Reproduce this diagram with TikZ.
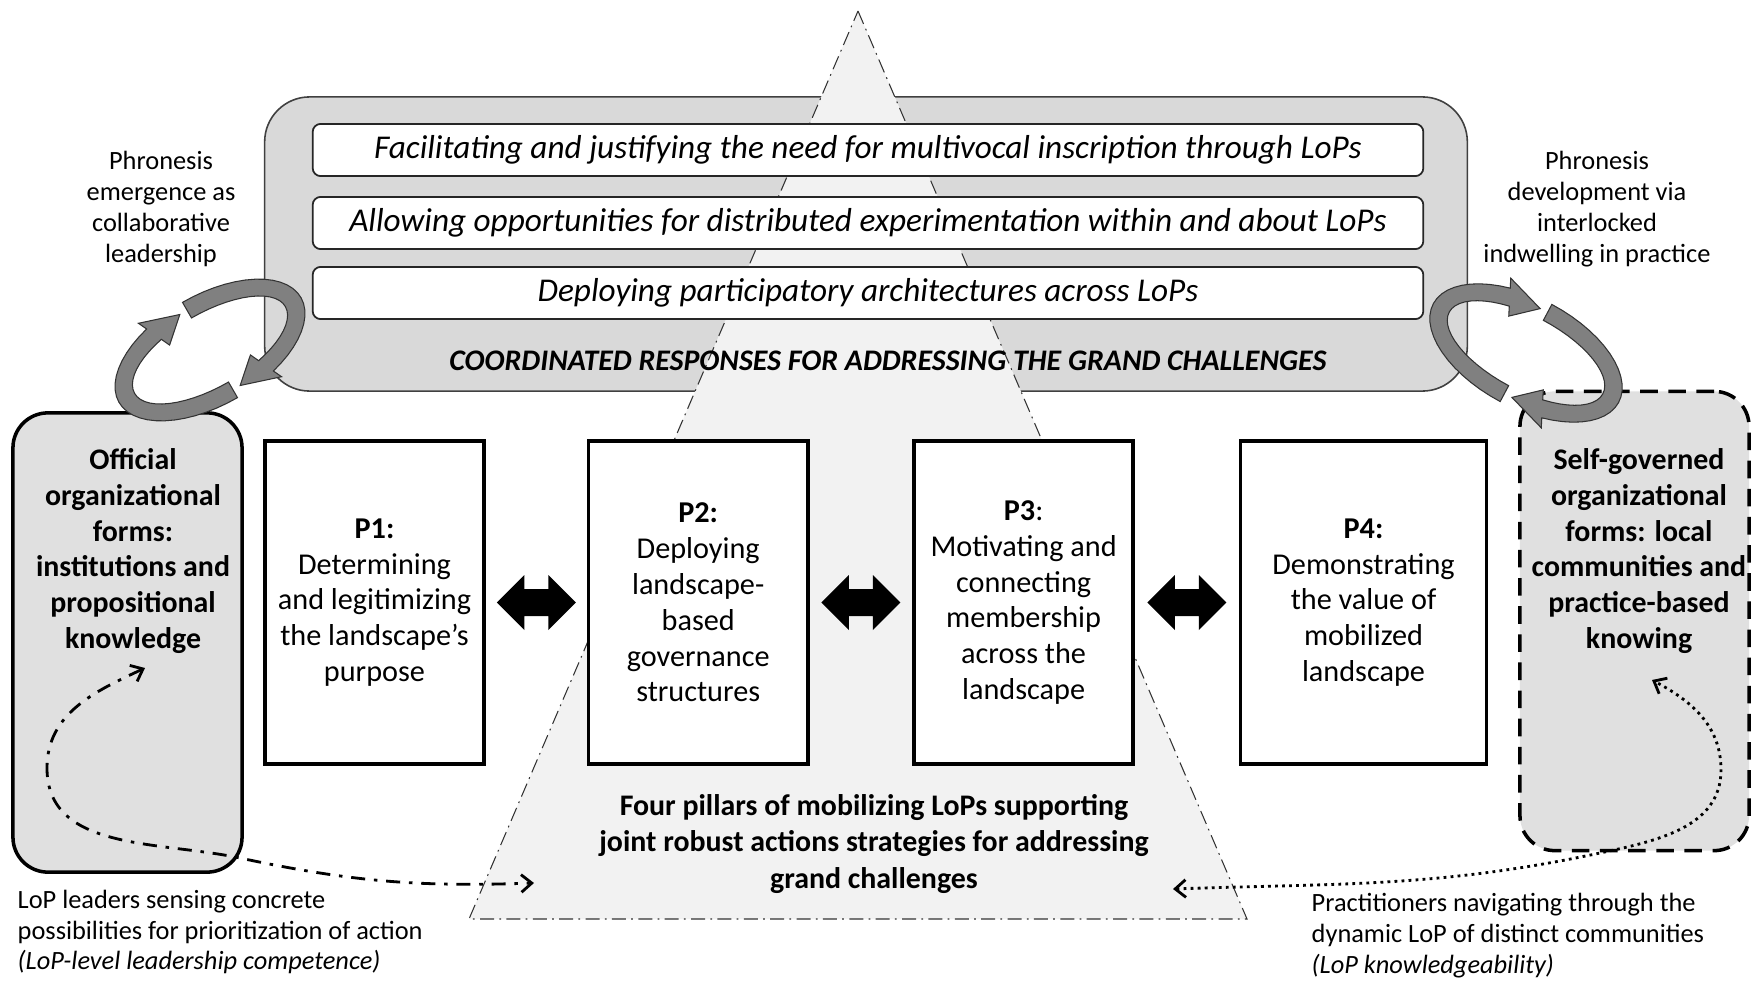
\documentclass[tikz,border=0pt]{standalone}
\usepackage{fontspec}
\setmainfont{Carlito}
\usetikzlibrary{positioning, arrows.meta}
\tikzset{node distance=1.05cm,
  respbox/.style={draw=black!75, line width=0.45pt, fill=black!15, rounded corners=0.45cm, minimum width=12.02cm, minimum height=2.94cm},
  rowbox/.style={draw=black!85, line width=0.5pt, fill=white, rounded corners=0.08cm, minimum width=11.1cm, minimum height=0.5cm, font=\fontsize{9.45}{11}\selectfont\itshape},
  pillar/.style={draw, line width=1pt, fill=white, minimum width=2.19cm, minimum height=3.23cm, align=center, font=\fontsize{8.6}{10.2}\selectfont},
  formbox/.style={draw, line width=1pt, fill=black!12, rounded corners=0.35cm, minimum width=2.29cm, minimum height=4.59cm},
  formtext/.style={align=center, font=\fontsize{8.5}{10.2}\selectfont\bfseries},
  note/.style={align=center, font=\fontsize{7.5}{8.8}\selectfont},
  ribbon/.style={fill=black!50, draw=black!80, line width=0.3pt},
  lead/.style={line width=0.8pt, {Straight Barb[length=3pt,width=5pt]}-{Straight Barb[length=3pt,width=5pt]}},
  pyramid/.style={fill=black!5, draw=black!80, line width=0.3pt, dash pattern=on 4pt off 1.5pt on 0.5pt off 1.5pt}
}
% one ribbon of a cycle: start angle, angle where the head begins
\newcommand\cyclearrow[2]{%
  \filldraw[ribbon] plot[domain=#1:#2, samples=25] ({105*cos(\x)},{55*sin(\x)})
    -- ({115*cos(#2)},{65*sin(#2)})
    -- ({96*cos(#2+20)},{46*sin(#2+20)})
    -- ({77*cos(#2)},{27*sin(#2)})
    -- plot[domain=#2:#1, samples=25] ({87*cos(\x)},{37*sin(\x)})
    -- cycle;}
% fat two-headed arrow centred on a coordinate
\newcommand\fatarrow[1]{%
  \fill (#1) ++(-39.5,0) -- ++(27.5,-27.5) -- ++(0,14) -- ++(24,0) -- ++(0,-14)
    -- ++(27.5,27.5) -- ++(-27.5,27.5) -- ++(0,-14) -- ++(-24,0) -- ++(0,14) -- cycle;}

\begin{document}
\begin{tikzpicture}[x=0.01cm, y=-0.01cm]
	\useasboundingbox (0,0) rectangle (1751,982);
	\clip (0,0) rectangle (1751,982);

	% coordinated responses
	\node[respbox] (resp) at (866,244) {};
	\coordinate (apex) at (858,11);
	\coordinate (baseR) at (1247,919);
	\coordinate (baseL) at (469,919);
	\filldraw[pyramid] (apex) -- (baseR) -- (baseL) -- cycle;
	\node[rowbox] (row1) at (868,150) {Facilitating and justifying the need for multivocal inscription through LoPs};
	\node[rowbox] (row2) at (868,223) {Allowing opportunities for distributed experimentation within and about LoPs};
	\node[rowbox] (row3) at (868,293) {Deploying participatory architectures across LoPs};
	\node[font=\fontsize{8.5}{9}\selectfont\bfseries\itshape] (resptitle) at (888,361) {COORDINATED RESPONSES FOR ADDRESSING THE GRAND CHALLENGES};

	% four pillars
	\node[pillar] (p1) at (374.5,602.5) {\textbf{P1:}\\Determining\\and legitimizing\\the landscape's\\purpose};
	\node[pillar, right=1.01cm of p1] (p2) {\textbf{P2:}\\Deploying\\landscape-\\based\\governance\\structures};
	\node[pillar, right=1.027cm of p2] (p3) {\textbf{P3}:\\Motivating and\\connecting\\membership\\across the\\landscape};
	\node[pillar, right=1.037cm of p3, minimum width=2.46cm] (p4) {\textbf{P4:}\\Demonstrating\\the value of\\mobilized\\landscape};
	\path (p1) -- (p2) coordinate[midway] (a12);
	\path (p2) -- (p3) coordinate[midway] (a23);
	\path (p3) -- (p4) coordinate[midway] (a34);
	\fatarrow{a12}
	\fatarrow{a23}
	\fatarrow{a34}
	\node[align=center, font=\fontsize{8.5}{10.4}\selectfont\bfseries] (pillars) at (874,844) {Four pillars of mobilizing LoPs supporting\\joint robust actions strategies for addressing\\grand challenges};

	% organizational forms
	\node[formbox] (official) at (127.5,642.5) {};
	\node[formtext] (officialtxt) at (133,551) {Official\\organizational\\forms:\\institutions and\\propositional\\knowledge};
	\node[formbox, dash pattern=on 5pt off 3pt] (selfgov) at (1634.5,621) {};
	\node[formtext] (selfgovtxt) at (1639,551) {Self-governed\\organizational\\forms: local\\communities and\\practice-based\\knowing};

	% phronesis
	\node[note] (phrleft) at (161,209) {Phronesis\\emergence as\\collaborative\\leadership};
	\node[note] (phrright) at (1597,209) {Phronesis\\development via\\interlocked\\indwelling in practice};
	\begin{scope}[shift={(210,350)}, rotate=30]
		\cyclearrow{90}{245}
		\cyclearrow{270}{425}
	\end{scope}
	\begin{scope}[shift={(1526,353)}, rotate=-28]
		\cyclearrow{90}{245}
		\cyclearrow{270}{425}
	\end{scope}

	% competences
	\node[note, align=left, anchor=west, inner sep=0pt] (leaders) at (17,932) {LoP leaders sensing concrete\\possibilities for prioritization of action\\\textit{(LoP-level leadership competence)}};
	\node[note, align=left, anchor=west, inner sep=0pt] (practitioners) at (1311,936) {Practitioners navigating through the\\dynamic LoP of distinct communities\\\textit{(LoP knowledgeability)}};
	\coordinate (officialtip) at (145,668);
	\coordinate (pyrleft) at (534,883);
	\coordinate (selftip) at (1652,680);
	\coordinate (pyrright) at (1173,889);
	\draw[lead, dash pattern=on 4pt off 2.5pt on 1pt off 2.5pt] (officialtip) to[out=205,in=90] (47,768) to[out=-90,in=168] (240,858) to[out=-12,in=182] (pyrleft);
	\draw[lead, dash pattern=on 0.8pt off 1.2pt] (pyrright) to[out=2,in=192] (1600,853) to[out=12,in=-90] (1721,770) to[out=90,in=-28] (selftip);
\end{tikzpicture}
\end{document}
